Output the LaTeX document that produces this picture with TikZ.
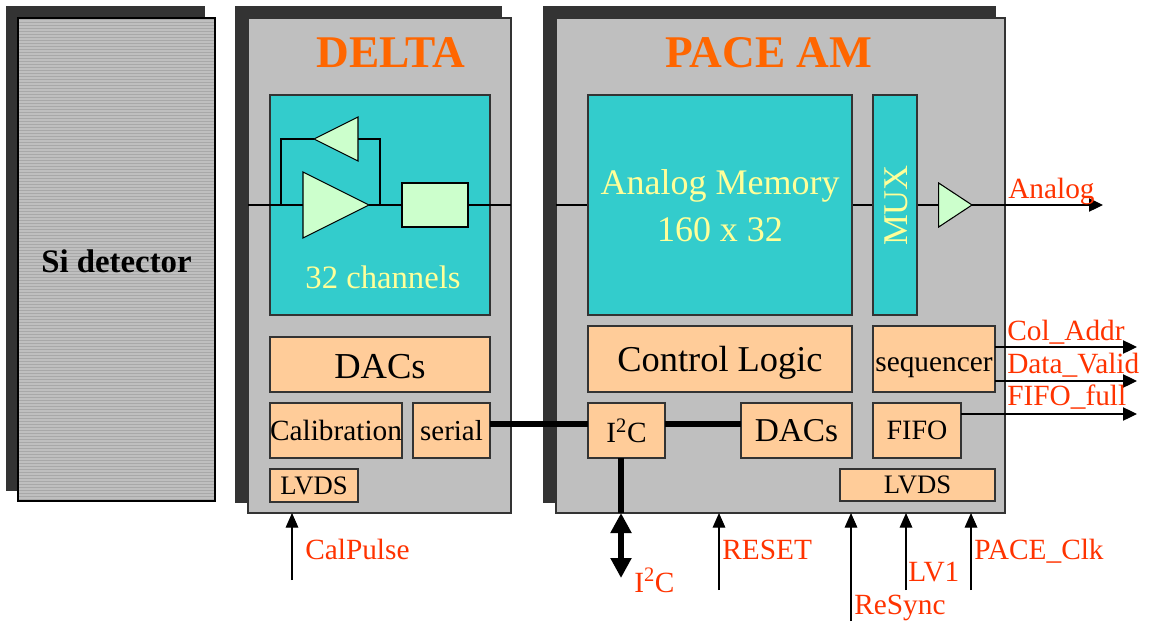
\documentclass[tikz,border=0pt]{standalone}
\usepackage{fontspec}
\setmainfont{Liberation Serif}
\usetikzlibrary{arrows.meta,shapes.geometric}
\definecolor{shadowc}{HTML}{333333}
\definecolor{panelc}{HTML}{BFBFBF}
\definecolor{tealc}{HTML}{33CCCC}
\definecolor{greenc}{HTML}{CCFFCC}
\definecolor{peachc}{HTML}{FFCC99}
\definecolor{titlec}{HTML}{FF6600}
\definecolor{sigc}{HTML}{FF3300}
\definecolor{yellowc}{HTML}{FFFF99}
\newcommand{\lowered}[2]{\raisebox{#1}[0pt][0pt]{#2}}
\tikzset{
  x=0.75pt,y=-0.75pt,
  bx/.style={draw=black,line width=0.8pt,inner sep=0pt,align=center},
  panel/.style={bx,fill=panelc,draw=shadowc},
  shadowbox/.style={bx,fill=shadowc,draw=shadowc},
  teal/.style={bx,fill=tealc,draw=shadowc,text=yellowc,font=\fontsize{27}{32}\selectfont},
  peach/.style={bx,fill=peachc,draw=shadowc},
  pale/.style={bx,fill=greenc,draw=black},
  amp/.style={isosceles triangle,isosceles triangle stretches,anchor=apex,draw=black,fill=greenc,line width=0.8pt,inner sep=0pt,outer sep=0pt},
  wire/.style={draw=black,line width=0.85pt},
  sig/.style={wire,-{Triangle[length=10.5pt,width=10pt]}},
  sigin/.style={wire,-{Triangle[length=11pt,width=9.5pt]}},
  fat/.style={draw=black,line width=3.8pt},
  lab/.style={anchor=base west,inner sep=0pt,text=sigc,font=\fontsize{22}{26}\selectfont},
  ttl/.style={anchor=base,inner sep=0pt,text=titlec,font=\bfseries\fontsize{34}{40}\selectfont},
}
\newcommand{\bxat}[7]{% name,x1,y1,x2,y2,style,text
  \pgfmathsetmacro{\bcx}{(#2+#4)/2}\pgfmathsetmacro{\bcy}{(#3+#5)/2}
  \pgfmathsetmacro{\bw}{(#4-#2)*0.75}\pgfmathsetmacro{\bh}{(#5-#3)*0.75}
  \node[#6,minimum width=\bw pt,minimum height=\bh pt] (#1) at (\bcx,\bcy) {#7};}
\begin{document}
\begin{tikzpicture}
\useasboundingbox (0,0) rectangle (1151,621);
% shadows and panels
\bxat{sishadow}{7}{7}{204}{490}{shadowbox}{}
\bxat{deltashadow}{236}{7}{501}{502}{shadowbox}{}
\bxat{paceshadow}{544}{7}{995}{502}{shadowbox}{}
\bxat{si}{18}{18}{215}{501}{bx,fill=panelc,draw=black,path picture={
  \foreach \yy in {-243,-240,...,243} {\draw[color=black!34,line width=0.8pt] (-100,\yy) -- (100,\yy);}
}}{}
\node[inner sep=0pt,anchor=base,font=\bfseries\fontsize{24.6}{29}\selectfont] (silabel) at (116.5,272) {Si detector};
\bxat{delta}{248}{18}{511}{513}{panel}{}
\bxat{pace}{556}{18}{1005}{513}{panel}{}
\node[ttl] (deltatitle) at (391,67) {DELTA};
\node[ttl] (pacetitle) at (769,67) {PACE AM};
% DELTA inner
\bxat{chan}{270}{95}{490}{315}{teal}{}
\node[inner sep=0pt,anchor=base,text=yellowc,font=\fontsize{24.5}{29}\selectfont] (chanlabel) at (383,288) {32 channels};
\bxat{ddacs}{270}{337}{490}{392}{peach,font=\fontsize{27.4}{32}\selectfont}{\lowered{-10.8pt}{DACs}}
\bxat{calib}{270}{403}{402}{458}{peach,font=\fontsize{22}{26}\selectfont}{Calibration}
\bxat{serial}{413}{403}{490}{458}{peach,font=\fontsize{21.7}{26}\selectfont}{serial}
\bxat{dlvds}{270}{469}{358}{502}{peach,font=\fontsize{20}{24}\selectfont}{LVDS}
\bxat{shaper}{402}{183}{468}{227}{pale}{}
\node[amp,minimum width=49.5pt,minimum height=49.5pt] (mainamp) at (369,205) {};
\node[amp,minimum width=33pt,minimum height=33pt,shape border rotate=180] (fbamp) at (314,139) {};
% PACE inner
\bxat{mem}{588}{95}{852}{315}{teal}{}
\node[inner sep=0pt,align=center,text=yellowc,font=\fontsize{27}{33}\selectfont] (memlabel) at (720,206) {Analog Memory\\[2.5pt]160 x 32};
\bxat{mux}{873}{95}{917}{315}{teal}{}
\node[inner sep=0pt,rotate=90,text=yellowc,font=\fontsize{26}{30}\selectfont] (muxlabel) at (896.5,205.5) {MUX};
\bxat{ctrl}{588}{326}{852}{392}{peach,font=\fontsize{27.3}{32}\selectfont}{\lowered{-9.7pt}{Control Logic}}
\bxat{seq}{873}{326}{995}{392}{peach,font=\fontsize{22}{26}\selectfont}{\lowered{-9pt}{sequencer}}
\bxat{iic}{588}{403}{665}{458}{peach,font=\fontsize{22}{26}\selectfont}{I\textsuperscript{2}C}
\bxat{pdacs}{741}{403}{852}{458}{peach,font=\fontsize{25}{30}\selectfont}{DACs}
\bxat{fifo}{873}{403}{961}{458}{peach,font=\fontsize{21}{25}\selectfont}{FIFO}
\bxat{plvds}{840}{469}{995}{501}{peach,font=\fontsize{20}{24}\selectfont}{LVDS}
\node[amp,minimum width=33pt,minimum height=25pt] (outamp) at (972,205) {};
% named points
\coordinate (dleft) at (248,205);
\coordinate (dright) at (511,205);
\coordinate (pleft) at (556,205);
\coordinate (fbl) at (281,205);
\coordinate (fbr) at (380,205);
\coordinate (analogend) at (1103,205);
\coordinate (colstart) at (995,347);
\coordinate (colend) at (1137,347);
\coordinate (dvstart) at (995,381);
\coordinate (dvend) at (1137,381);
\coordinate (ffstart) at (961,414);
\coordinate (ffend) at (1137,414);
\coordinate (calfrom) at (292,580);
\coordinate (calto) at (292,513);
\coordinate (rstfrom) at (719,590);
\coordinate (rstto) at (719,513);
\coordinate (rsfrom) at (851,621);
\coordinate (rsto) at (851,513);
\coordinate (lvfrom) at (906,590);
\coordinate (lvto) at (906,513);
\coordinate (clkfrom) at (971,590);
\coordinate (clkto) at (971,513);
\coordinate (iictop) at (621,458);
\coordinate (iicmid) at (621,513);
\coordinate (iicend) at (621,578);
\coordinate (busa) at (490,424);
\coordinate (busb) at (588,424);
\coordinate (busc) at (665,424);
\coordinate (busd) at (741,424);
% wires
\draw[wire] (dleft) -- (mainamp.lower side);
\draw[wire] (mainamp.apex) -- (shaper.west);
\draw[wire] (shaper.east) -- (dright);
\draw[wire] (fbl) |- (fbamp.apex);
\draw[wire] (fbamp.lower side) -| (fbr);
\draw[wire] (pleft) -- (mem.west);
\draw[wire] (mem.east) -- (mux.west);
\draw[wire] (mux.east) -- (outamp.lower side);
\draw[sig] (outamp.apex) -- (analogend);
\draw[sig] (colstart) -- (colend);
\draw[sig] (dvstart) -- (dvend);
\draw[sig] (ffstart) -- (ffend);
\draw[sigin] (calfrom) -- (calto);
\draw[sigin] (rstfrom) -- (rstto);
\draw[sigin] (rsfrom) -- (rsto);
\draw[sigin] (lvfrom) -- (lvto);
\draw[sigin] (clkfrom) -- (clkto);
\draw[fat] (busa) -- (busb);
\draw[fat] (busc) -- (busd);
\draw[fat] (iictop) -- (iicmid);
\draw[fat,{Triangle[length=15pt,width=15pt]}-{Triangle[length=15pt,width=15pt]}] (iicmid) -- (iicend);
% labels
\node[lab] (lanalog) at (1008,198) {Analog};
\node[lab] (lcol) at (1007,340) {Col\_Addr};
\node[lab] (ldv) at (1007,373) {Data\_Valid};
\node[lab] (lff) at (1007,405) {FIFO\_full};
\node[lab] (lcal) at (305,559) {CalPulse};
\node[lab] (lrst) at (722,559) {RESET};
\node[lab] (lii) at (634,592) {I\textsuperscript{2}C};
\node[lab] (lrs) at (854,614) {ReSync};
\node[lab] (llv) at (908,581) {LV1};
\node[lab] (lclk) at (974,559) {PACE\_Clk};
\end{tikzpicture}
\end{document}
